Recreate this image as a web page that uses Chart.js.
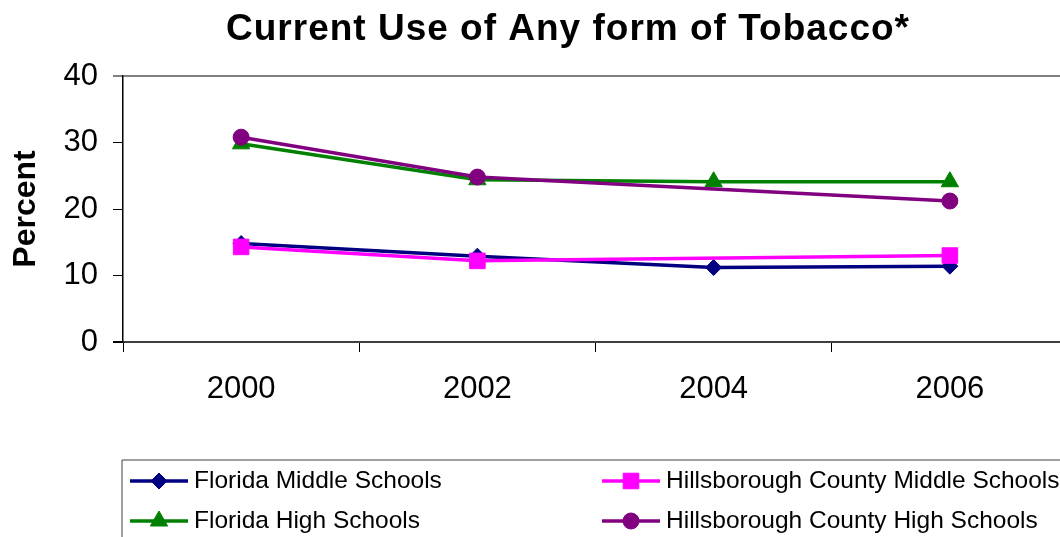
<!DOCTYPE html>
<html><head><meta charset="utf-8">
<script src="https://cdn.jsdelivr.net/npm/chart.js@4"></script>
<style>html,body{margin:0;padding:0;overflow:hidden;background:#fff;width:1060px;height:537px}canvas{display:block}</style>
</head><body>
<canvas id="c" width="1080" height="537"></canvas>
<script>
const years = ['2000', '2002', '2004', '2006'];
const floridaMiddle = [14.8, 12.9, 11.2, 11.4];
const hillsMiddle = [14.3, 12.2, null, 13.0];
const floridaHigh = [29.8, 24.4, 24.1, 24.1];
const hillsHigh = [30.8, 24.8, null, 21.2];
const seriesNames = ['Florida Middle Schools', 'Hillsborough County Middle Schools', 'Florida High Schools', 'Hillsborough County High Schools'];
const yTickValues = [0, 10, 20, 30, 40];
const titleText = 'Current Use of Any form of Tobacco*';
const yTitleText = 'Percent';

const FONT = "'Liberation Sans', Arial, sans-serif";

const titlePlugin = {
  id: 'customTitle',
  afterDraw(chart) {
    const ctx = chart.ctx;
    ctx.save();
    ctx.font = 'bold 37px ' + FONT;
    try { ctx.letterSpacing = '1px'; } catch (e) {}
    ctx.fillStyle = '#000';
    ctx.textAlign = 'center';
    ctx.textBaseline = 'middle';
    ctx.fillText(titleText, 568, 30);
    ctx.restore();
  }
};

function drawMarker(ctx, ds, x, y) {
  const o = {pointStyle: ds.pointStyle, radius: ds.pointRadius, rotation: 0, borderWidth: 1};
  ctx.fillStyle = ds.pointBackgroundColor;
  ctx.strokeStyle = ds.pointBorderColor;
  ctx.lineWidth = 1;
  Chart.helpers.drawPoint(ctx, o, x, y);
}

const legendPlugin = {
  id: 'customLegend',
  afterDraw(chart) {
    const ctx = chart.ctx;
    ctx.save();
    ctx.lineWidth = 1.5;
    ctx.strokeStyle = '#808080';
    ctx.beginPath();
    ctx.moveTo(122, 460); ctx.lineTo(1080, 460);
    ctx.stroke();
    ctx.strokeStyle = '#404040';
    ctx.lineWidth = 1;
    ctx.beginPath();
    ctx.moveTo(122, 460); ctx.lineTo(122, 537);
    ctx.stroke();
    const colX = [130, 602];
    const rowY = [481, 521];
    chart.data.datasets.forEach((ds, i) => {
      const col = i % 2, row = Math.floor(i / 2);
      const x0 = colX[col], y = rowY[row];
      ctx.strokeStyle = ds.borderColor;
      ctx.lineWidth = 3.5;
      ctx.beginPath();
      ctx.moveTo(x0, y); ctx.lineTo(x0 + 58, y);
      ctx.stroke();
      drawMarker(ctx, ds, x0 + 29, y);
      ctx.fillStyle = '#000';
      ctx.font = '24.5px ' + FONT;
      ctx.textAlign = 'left';
      ctx.textBaseline = 'middle';
      ctx.fillText(ds.label, x0 + 64, y);
    });
    ctx.restore();
  }
};

function mk(label, data, color, style, radius, order) {
  return {
    label, data,
    borderColor: color, backgroundColor: color,
    pointBackgroundColor: color, pointBorderColor: color,
    pointStyle: style, pointRadius: radius, pointHoverRadius: radius,
    pointBorderWidth: 1,
    borderWidth: 3.5, tension: 0, spanGaps: true, order
  };
}

new Chart(document.getElementById('c'), {
  type: 'line',
  data: {
    labels: years,
    datasets: [
      mk(seriesNames[0], floridaMiddle, '#000080', 'rectRot', 8, 4),
      mk(seriesNames[1], hillsMiddle, '#FF00FF', 'rect', 11, 3),
      mk(seriesNames[2], floridaHigh, '#008000', 'triangle', 10, 2),
      mk(seriesNames[3], hillsHigh, '#800080', 'circle', 8, 1)
    ]
  },
  options: {
    responsive: false,
    animation: false,
    layout: {padding: {top: 76, right: 8, bottom: 125, left: 0}},
    plugins: {legend: {display: false}, title: {display: false}, tooltip: {enabled: false}},
    scales: {
      x: {
        offset: true,
        grid: {offset: true, drawOnChartArea: false, drawTicks: true, tickLength: 10, tickColor: '#000', color: '#000'},
        border: {display: true, color: '#404040', width: 2},
        ticks: {color: '#000', font: {family: FONT, size: 31}, padding: 19, maxRotation: 0},
        afterFit(s) { s.height = 70; }
      },
      y: {
        min: 0, max: 40,
        afterBuildTicks(s) { s.ticks = yTickValues.map(v => ({value: v})); },
        grid: {
          drawTicks: true, tickLength: 10,
          color: c => c.tick && c.tick.value === 40 ? '#808080' : (c.tick && c.tick.value === 0 ? '#404040' : 'rgba(0,0,0,0)'),
          lineWidth: c => (c.tick && (c.tick.value === 40 || c.tick.value === 0)) ? 2 : 1,
          tickColor: c => c.tick && c.tick.value === 40 ? '#808080' : '#000'
        },
        border: {display: true, color: '#000', width: 1.5},
        ticks: {color: '#000', font: {family: FONT, size: 31}, padding: 15},
        title: {display: true, text: yTitleText, color: '#000', font: {family: FONT, size: 32, weight: 'bold'}, padding: {top: 7}},
        afterFit(s) { s.width = 123; }
      }
    }
  },
  plugins: [titlePlugin, legendPlugin]
});
</script>
</body></html>
